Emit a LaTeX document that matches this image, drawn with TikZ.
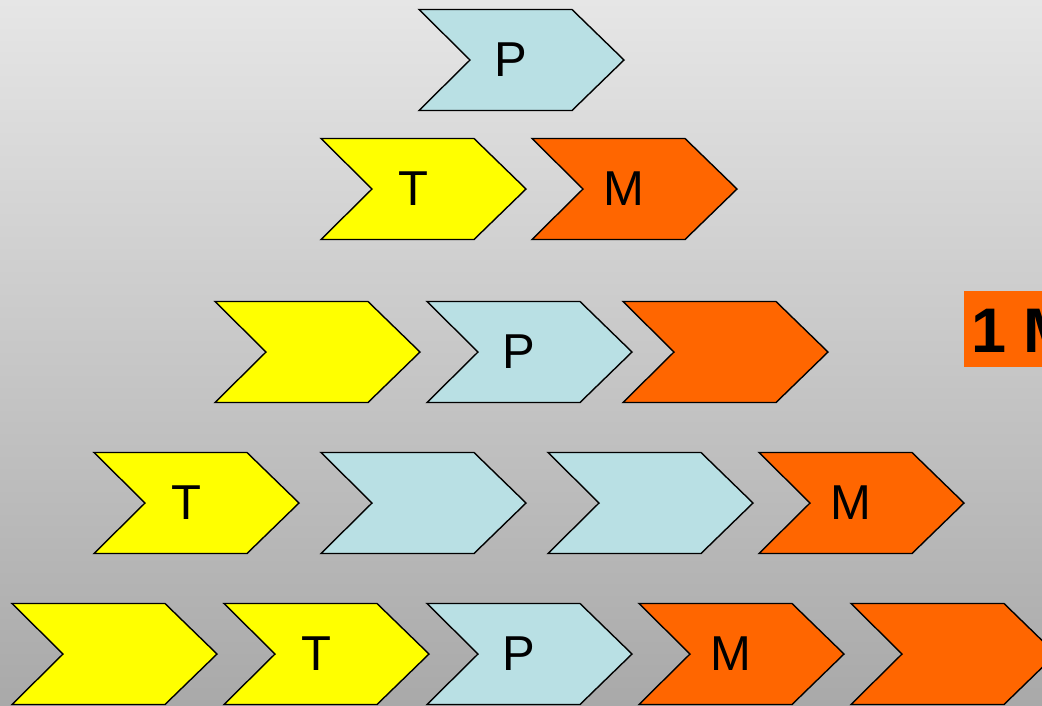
\documentclass[tikz,border=0pt]{standalone}
\usepackage{fontspec}
\setmainfont{Liberation Sans}
\definecolor{cyel}{HTML}{FFFF00}
\definecolor{corg}{HTML}{FF6600}
\definecolor{cblu}{HTML}{B9E0E4}
\definecolor{bgtop}{HTML}{E6E6E6}
\definecolor{bgbot}{HTML}{A9A9A9}
\tikzset{
  chev/.style={draw=black, line width=1.4pt, line join=miter},
  lab/.style={inner sep=0pt, font=\fontsize{49}{49}\selectfont, text=black},
  tag/.style={inner sep=0pt, anchor=base west, font=\fontsize{63}{63}\selectfont\bfseries, text=black},
}
% #1 name, #2 left x, #3 mid y, #4 colour, #5 label
\newcommand\chevshape[5]{%
  \path[chev, fill=#4] (#2,#3-50.5) -- ++(153,0) -- ++(52,50.5) -- ++(-52,50.5) -- ++(-153,0) -- ++(51,-50.5) -- cycle;
  \node[lab] (#1) at (#2+92,#3) {#5};
}
\begin{document}
\begin{tikzpicture}[x=1pt,y=-1pt]
\useasboundingbox (0,0) rectangle (1042,705);
\clip (0,0) rectangle (1042,705);
\shade[top color=bgtop, bottom color=bgbot] (0,0) rectangle (1042,705);
% row 1
\chevshape{r1a}{419}{60}{cblu}{P}
% row 2
\chevshape{r2a}{321}{189}{cyel}{T}
\chevshape{r2b}{532}{189}{corg}{M}
% row 3
\chevshape{r3a}{215}{352}{cyel}{}
\chevshape{r3b}{427}{352}{cblu}{P}
\chevshape{r3c}{623}{352}{corg}{}
% row 4
\chevshape{r4a}{94}{503}{cyel}{T}
\chevshape{r4b}{321}{503}{cblu}{}
\chevshape{r4c}{548}{503}{cblu}{}
\chevshape{r4d}{759}{503}{corg}{M}
% row 5
\chevshape{r5a}{12}{654}{cyel}{}
\chevshape{r5b}{224}{654}{cyel}{T}
\chevshape{r5c}{427}{654}{cblu}{P}
\chevshape{r5d}{639}{654}{corg}{M}
\chevshape{r5e}{851}{654}{corg}{}
% tag
\fill[corg] (964,291) rectangle (1100,367);
\node[tag] (tag) at (971,352) {1 M};
\end{tikzpicture}
\end{document}
